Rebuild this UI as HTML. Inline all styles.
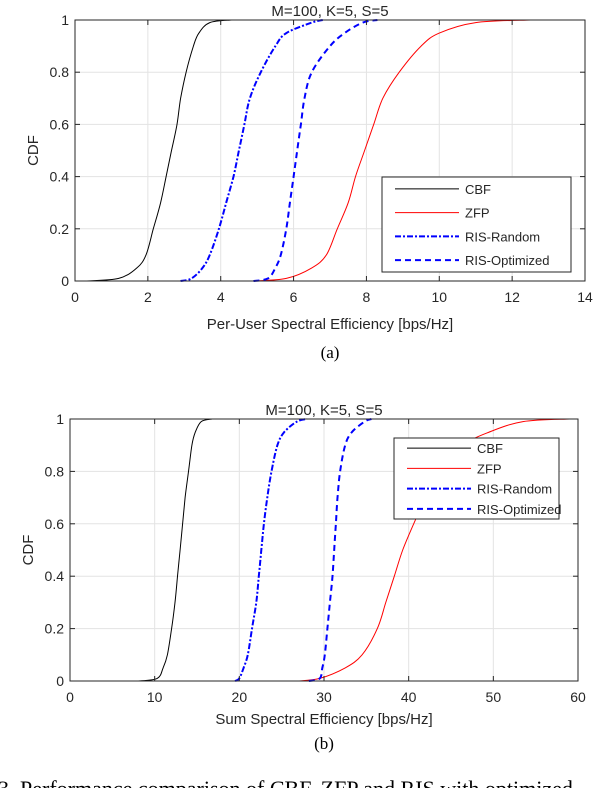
<!DOCTYPE html>
<html><head><meta charset="utf-8">
<style>
html,body{margin:0;padding:0;background:#fff;width:612px;height:788px;overflow:hidden}
svg{display:block}
text{font-family:"Liberation Sans",sans-serif;fill:#262626}
.cap{font-family:"Liberation Serif",serif;fill:#000}
</style></head>
<body>
<svg id="fig" width="612" height="788" viewBox="0 0 612 788"></svg>
<script>
const levels=[0,0.01,0.05,0.1,0.2,0.3,0.4,0.5,0.6,0.7,0.8,0.9,0.95,0.99,1];
const aCBF=[0.3,1.2,1.7,1.95,2.15,2.35,2.5,2.65,2.8,2.9,3.05,3.25,3.4,3.7,4.3];
const aZFP=[4.9,5.8,6.5,6.9,7.2,7.5,7.7,7.95,8.2,8.45,8.9,9.5,10,11,12.5];
const aRand=[2.9,3.2,3.5,3.7,3.95,4.15,4.35,4.5,4.65,4.8,5.1,5.5,5.8,6.5,6.8];
const aOpt=[4.9,5.3,5.5,5.65,5.8,5.9,6.0,6.1,6.2,6.3,6.5,7.0,7.4,7.9,8.3];
const bCBF=[8,10.3,11,11.5,12,12.4,12.7,13,13.3,13.6,14,14.4,14.8,15.5,16.8];
const bZFP=[27,29.5,32.5,34.5,36.3,37.3,38.3,39.3,40.6,42,43.7,46.5,49.5,53.5,59];
const bRand=[19.5,20,20.5,21,21.5,22,22.3,22.6,22.9,23.3,23.8,24.5,25.3,26.8,28];
const bOpt=[28.2,29.5,29.8,30.1,30.4,30.7,31,31.2,31.4,31.6,31.9,32.5,33.3,34.8,35.6];
const aTicks=[0,2,4,6,8,10,12,14];
const bTicks=[0,10,20,30,40,50,60];
const yTicks=[0,0.2,0.4,0.6,0.8,1];
const seriesNames=["CBF","ZFP","RIS-Random","RIS-Optimized"];

const NS="http://www.w3.org/2000/svg";
const svg=document.getElementById('fig');
function mk(tag,attrs,parent){const e=document.createElementNS(NS,tag);for(const k in attrs)e.setAttribute(k,attrs[k]);(parent||svg).appendChild(e);return e;}
const styles=[{stroke:"#000",dash:"",w:1},{stroke:"#ff0000",dash:"",w:1},{stroke:"#0000ff",dash:"6,2,2,2",w:2},{stroke:"#0000ff",dash:"6,4",w:2}];

function smoothPath(P){
  let d="M"+P[0][0].toFixed(1)+","+P[0][1].toFixed(1);
  for(let i=0;i<P.length-1;i++){
    const p0=P[i-1]||P[i],p1=P[i],p2=P[i+1],p3=P[i+2]||P[i+1];
    const c1x=p1[0]+(p2[0]-p0[0])/6,c1y=p1[1]+(p2[1]-p0[1])/6;
    const c2x=p2[0]-(p3[0]-p1[0])/6,c2y=p2[1]-(p3[1]-p1[1])/6;
    d+=` C${c1x.toFixed(1)},${c1y.toFixed(1)} ${c2x.toFixed(1)},${c2y.toFixed(1)} ${p2[0].toFixed(1)},${p2[1].toFixed(1)}`;
  }
  return d;
}

function chart(id,L,R,T,B,xmax,xt,data,xlabel,xlOff,leg,cap,capY){
  const g=mk('g',{});
  
  
  const sx=v=>L+(R-L)*v/xmax, sy=v=>B-(B-T)*v;
  mk('rect',{x:L,y:T,width:R-L,height:B-T,fill:"#fff"},g);
  xt.forEach(v=>{const l=mk('line',{x1:sx(v),x2:sx(v),y1:T,y2:B,stroke:"#e3e3e3","stroke-width":1},g);});
  yTicks.forEach(v=>{const l=mk('line',{x1:L,x2:R,y1:sy(v),y2:sy(v),stroke:"#e3e3e3","stroke-width":1},g);});
  data.forEach((arr,i)=>{
    const P=arr.map((x,j)=>[sx(x),sy(levels[j])]);
    const p=mk('path',{d:smoothPath(P),fill:"none",stroke:styles[i].stroke,"stroke-width":styles[i].w,"stroke-dasharray":styles[i].dash,"stroke-linejoin":"round"},g);
    
    
  });
  const ax=mk('rect',{x:L,y:T,width:R-L,height:B-T,fill:"none",stroke:"#262626","stroke-width":1},g);
  
  
  xt.forEach(v=>{mk('line',{x1:sx(v),x2:sx(v),y1:B,y2:B-5,stroke:"#262626"},g);mk('line',{x1:sx(v),x2:sx(v),y1:T,y2:T+5,stroke:"#262626"},g);
    const t=mk('text',{x:sx(v),y:B+21,"text-anchor":"middle","font-size":14},g);t.textContent=v;
    });
  yTicks.forEach(v=>{mk('line',{x1:L,x2:L+5,y1:sy(v),y2:sy(v),stroke:"#262626"},g);mk('line',{x1:R,x2:R-5,y1:sy(v),y2:sy(v),stroke:"#262626"},g);
    const t=mk('text',{x:L-6,y:sy(v)+5,"text-anchor":"end","font-size":14},g);t.textContent=v;
    });
  const ti=mk('text',{x:(L+R)/2,y:T-4,"text-anchor":"middle","font-size":15,fill:"#000"},g);ti.textContent="M=100, K=5, S=5";
  
  const xl=mk('text',{x:(L+R)/2,y:B+xlOff,"text-anchor":"middle","font-size":15},g);xl.textContent=xlabel;
  
  const yl=mk('text',{x:0,y:0,"text-anchor":"middle","font-size":15,transform:`translate(${L-37},${(T+B)/2}) rotate(-90)`},g);yl.textContent="CDF";
  
  const lg=mk('g',{},g);
  
  
  mk('rect',{x:leg[0],y:leg[1],width:leg[2]-leg[0],height:leg[3]-leg[1],fill:"#fff",stroke:"#262626","stroke-width":1},lg);
  const step=(leg[3]-leg[1])/4;
  seriesNames.forEach((n,i)=>{
    const yy=leg[1]+step*(i+0.5);
    mk('line',{x1:leg[0]+13,x2:leg[0]+77,y1:yy,y2:yy,stroke:styles[i].stroke,"stroke-width":styles[i].w,"stroke-dasharray":styles[i].dash},lg);
    const t=mk('text',{x:leg[0]+83,y:yy+5,"font-size":13,fill:"#000"},lg);t.textContent=n;
    
  });
  const c=mk('text',{x:(L+R)/2,y:capY,"text-anchor":"middle","font-size":17,class:"cap"},g);c.textContent=cap;
  
}
chart('chart-a',75,585,20,281,14,aTicks,[aCBF,aZFP,aRand,aOpt],"Per-User Spectral Efficiency [bps/Hz]",48,[382,177,571,272],"(a)",358);
chart('chart-b',70,578,419,681,60,bTicks,[bCBF,bZFP,bRand,bOpt],"Sum Spectral Efficiency [bps/Hz]",43,[394,438,559,519],"(b)",749);
const fc=mk('text',{x:-2,y:796,"font-size":22,class:"cap"});fc.textContent="3.  Performance comparison of CBF, ZFP and RIS with optimized";


</script>
</body></html>
